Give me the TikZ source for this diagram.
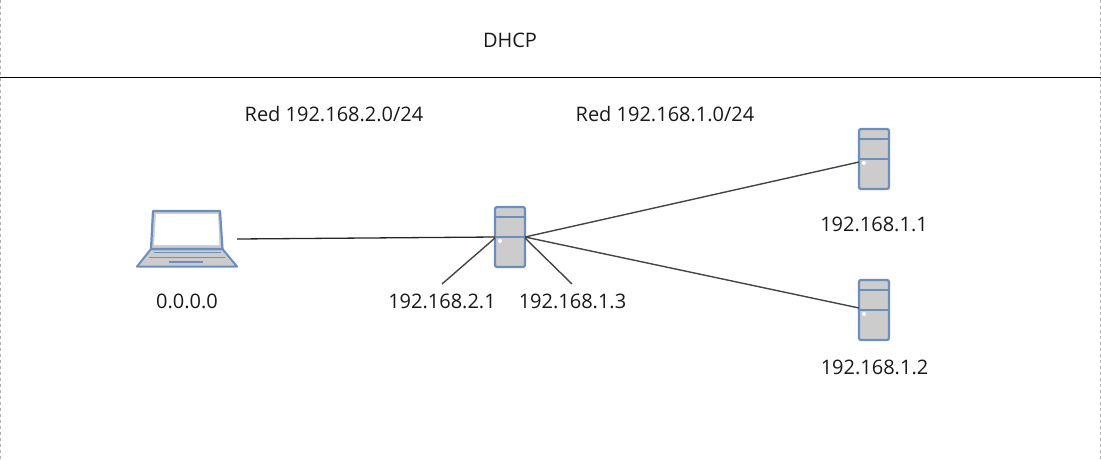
\documentclass[tikz,border=0pt]{standalone}
\usepackage{fontspec}
\setmainfont{Open Sans}
\definecolor{frameblue}{HTML}{6C8EBF}
\definecolor{bodygray}{HTML}{CCCCCC}
\definecolor{wiregray}{HTML}{444444}
\tikzset{
	server/.style={rectangle, draw=frameblue, fill=bodygray, line width=2.2pt, rounded corners=2pt,
		minimum width=30pt, minimum height=60pt, inner sep=0pt, outer sep=0pt,
		path picture={
			\draw[frameblue, line width=2.2pt] ([yshift=-10pt]path picture bounding box.north west) -- ([yshift=-10pt]path picture bounding box.north east);
			\draw[frameblue, line width=2.2pt] ([yshift=-30pt]path picture bounding box.north west) -- ([yshift=-30pt]path picture bounding box.north east);
			\fill[white] ([xshift=5pt,yshift=-34pt]path picture bounding box.north west) circle (2pt);
		}},
	laptop/.style={rectangle, minimum width=100pt, minimum height=56pt, inner sep=0pt, outer sep=0pt},
	label text/.style={font=\fontsize{20}{24}\selectfont, text=black!90, inner sep=0pt},
	wire/.style={draw=wiregray, line width=1.4pt},
	rule line/.style={draw=black, line width=1pt},
	side line/.style={draw=black!30, line width=1pt, dashed}
}
\begin{document}
\begin{tikzpicture}[x=1pt, y=-1pt]
	\useasboundingbox (0,0) rectangle (1101,459);
	% bordes y linea superior
	\coordinate (sideLT) at (0.5,0);
	\coordinate (sideLB) at (0.5,459);
	\coordinate (sideRT) at (1100.5,0);
	\coordinate (sideRB) at (1100.5,459);
	\coordinate (topL) at (0,77);
	\coordinate (topR) at (1101,77);
	\draw[side line] (sideLT) -- (sideLB);
	\draw[side line] (sideRT) -- (sideRB);
	\draw[rule line] (topL) -- (topR);
	% equipos
	\node[laptop] (pc) at (187,239) {};
	\node[server] (router) at (510,237) {};
	\node[server] (srvOne) at (874,159) {};
	\node[server] (srvTwo) at (874,310) {};
	\begin{scope}[shift={(pc.center)}]
		\draw[frameblue, fill=bodygray, line width=2pt, line join=round] (-36,10) -- (35.5,10) -- (50,27.5) -- (-50,27.5) -- cycle;
		\draw[frameblue, fill=bodygray, line width=2.2pt, line join=round] (-34,-28) -- (33,-28) -- (35.5,10) -- (-36,10) -- cycle;
		\fill[white] (-31,-25) -- (31,-25) -- (32.5,6) -- (-33,6) -- cycle;
		\draw[frameblue, line width=1.7pt] (-33,13.5) -- (34,13.5);
		\draw[frameblue, line width=1.7pt] (-38,18.5) -- (38,18.5);
		\draw[frameblue, line width=1.7pt] (-18,23) -- (16,23);
	\end{scope}
	% conexiones
	\coordinate (tagA) at (442,284);
	\coordinate (tagB) at (572,284);
	\draw[draw=black!85, line width=1.3pt] (pc.east) -- (router.west);
	\draw[wire] ([yshift=-1pt]router.west) -- (tagA);
	\draw[wire] ([yshift=-1pt]router.east) -- (tagB);
	\draw[wire] (router.east) -- ([yshift=-3pt]srvOne.west);
	\draw[wire] (router.east) -- ([yshift=2pt]srvTwo.west);
	% textos
	\node[label text] (title) at (510,40.5) {DHCP};
	\node[label text] (netB) at (334,114.5) {Red 192.168.2.0/24};
	\node[label text] (netA) at (665,114.5) {Red 192.168.1.0/24};
	\node[label text] (pcIp) at (187,301.5) {0.0.0.0};
	\node[label text] (routerB) at (442,301.5) {192.168.2.1};
	\node[label text] (routerA) at (572.5,301.5) {192.168.1.3};
	\node[label text] (srvOneIp) at (874,224.5) {192.168.1.1};
	\node[label text] (srvTwoIp) at (874.5,367.5) {192.168.1.2};
\end{tikzpicture}
\end{document}
